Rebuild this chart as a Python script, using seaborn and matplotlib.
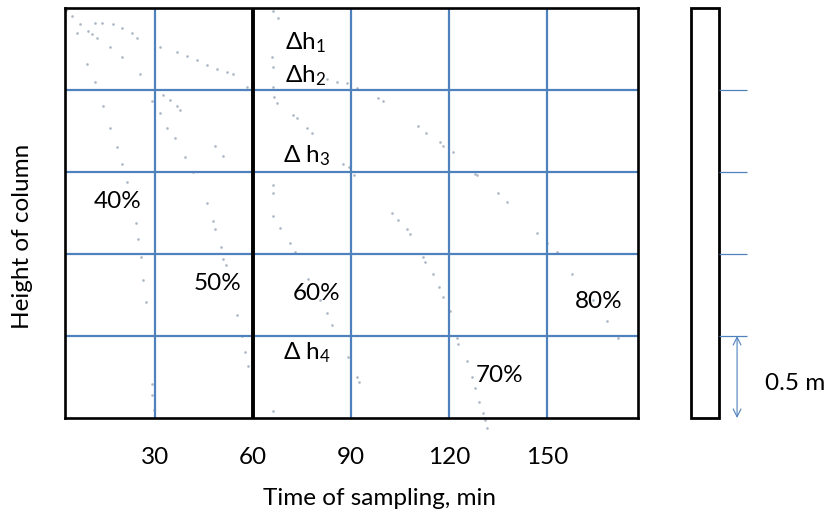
import numpy as np
import pandas as pd
import matplotlib
matplotlib.use('Agg')
import matplotlib.pyplot as plt
import seaborn as sns
from matplotlib.patches import Rectangle

# 采样时间 (min) 与柱高 (m) —— 浅色点迹
t_40 = [2.8, 6.1, 9.2, 11.6, 14.1, 16.2, 18.4, 19.9, 21.4, 24.2, 24.8, 25.7, 26.3, 27.2, 29.1, 29.1, 29.7]
h_40 = [2.49, 2.35, 2.16, 2.05, 1.90, 1.77, 1.65, 1.55, 1.44, 1.19, 1.09, 0.98, 0.84, 0.71, 0.21, 0.14, 0.05]

t_50 = [12.2, 16.2, 19.9, 25.4, 29.1, 31.5, 33.7, 36.1, 39.2, 41.6, 45.9, 47.8, 48.4, 50.2, 50.8, 51.7,
        55.1, 56.6, 57.5, 58.5, 59.7]
h_50 = [2.32, 2.26, 2.20, 2.10, 1.93, 1.86, 1.77, 1.71, 1.59, 1.50, 1.31, 1.20, 1.15, 1.04, 0.97, 0.93,
        0.63, 0.50, 0.40, 0.32, 0.16]

t_top = [2.8, 4.6, 7.0, 9.5, 10.7, 11.6, 13.8, 17.1, 19.9, 23.0, 24.5, 31.5, 36.7, 39.8, 42.9, 45.9,
         49.0, 52.0, 53.9, 58.2]
h_top = [2.49, 2.45, 2.40, 2.36, 2.34, 2.41, 2.41, 2.40, 2.38, 2.35, 2.32, 2.26, 2.23, 2.21, 2.18, 2.15,
         2.13, 2.11, 2.10, 2.02]

t_mid = [32.4, 34.6, 36.7, 37.7, 48.4, 50.8]
h_mid = [1.97, 1.94, 1.90, 1.88, 1.66, 1.60]

t_60 = [66.1, 66.1, 66.1, 68.3, 71.3, 72.9, 76.8, 80.5, 82.6, 84.2, 89.1, 91.8, 92.4, 66.1]
h_60 = [1.42, 1.37, 1.23, 1.16, 1.07, 1.01, 0.85, 0.72, 0.64, 0.57, 0.37, 0.25, 0.22, 0.04]

t_70 = [66.1, 67.7, 65.8, 66.1, 66.1, 66.4, 67.3, 72.2, 73.5, 76.5, 78.1, 87.5, 89.4, 90.9, 102.5, 104.4,
        107.1, 108.1, 112.0, 112.6, 115.1, 116.9, 118.2, 120.3, 122.4, 122.7, 125.5, 127.0, 128.0, 129.2,
        130.4, 131.0, 131.6]
h_70 = [2.48, 2.44, 2.20, 2.14, 2.02, 1.96, 1.92, 1.85, 1.83, 1.77, 1.74, 1.55, 1.53, 1.48, 1.25, 1.21,
        1.15, 1.12, 0.98, 0.95, 0.88, 0.80, 0.74, 0.65, 0.49, 0.45, 0.35, 0.25, 0.18, 0.10,
        0.03, -0.01, -0.06]

t_80 = [82.6, 85.7, 88.8, 91.8, 98.3, 99.8, 110.5, 113.0, 117.2, 118.2, 121.2, 128.0, 128.6, 135.0, 137.7,
        146.9, 150.0, 153.1, 157.6, 164.1, 168.4, 171.7]
h_80 = [2.07, 2.05, 2.04, 2.01, 1.95, 1.93, 1.78, 1.74, 1.68, 1.66, 1.62, 1.49, 1.48, 1.37, 1.32,
        1.13, 1.07, 1.01, 0.88, 0.72, 0.59, 0.49]

# 刻度与标注
time_ticks = [30, 60, 90, 120, 150]
height_levels = [0.5, 1.0, 1.5, 2.0]
column_height = 2.5
split_time = 60

pct_labels = ['40%', '50%', '60%', '70%', '80%']
pct_t = [18.4, 49.0, 79.3, 135.3, 165.9]
pct_h = [1.32, 0.82, 0.76, 0.26, 0.71]

dh_labels = [r'$\Delta$h$_{\mathregular{1}}$', r'$\Delta$h$_{\mathregular{2}}$',
             r'$\Delta$ h$_{\mathregular{3}}$', r'$\Delta$ h$_{\mathregular{4}}$']
dh_t = [76.0, 76.0, 76.5, 76.5]
dh_h = [2.29, 2.09, 1.60, 0.40]

curves = {'40': (t_40, h_40), '50': (t_50, h_50), 'top': (t_top, h_top), 'mid': (t_mid, h_mid),
          '60': (t_60, h_60), '70': (t_70, h_70), '80': (t_80, h_80)}
df = pd.concat([pd.DataFrame({'t': t, 'h': h, 'curve': k}) for k, (t, h) in curves.items()],
               ignore_index=True)

sns.set_style('white')
plt.rcParams['font.family'] = ['Lato', 'DejaVu Sans']
plt.rcParams['mathtext.fontset'] = 'custom'
plt.rcParams['mathtext.rm'] = 'Lato'
plt.rcParams['mathtext.it'] = 'Lato'
plt.rcParams['mathtext.default'] = 'regular'
plt.rcParams['text.color'] = 'black'
plt.rcParams['axes.labelcolor'] = 'black'
plt.rcParams['xtick.color'] = 'black'

blue = '#4f81bd'
fs = 17.5

fig = plt.figure(figsize=(8.29, 5.18), dpi=100)
ax = fig.add_axes([65 / 829, 100 / 518, 573 / 829, 410 / 518])

sns.scatterplot(data=df, x='t', y='h', ax=ax, color='#aab5c4', s=3.5, linewidth=0,
                legend=False, clip_on=False, zorder=1)

ax.set_xlim(2.45, 177.8)
ax.set_ylim(0, column_height)
ax.set_xticks(time_ticks)
ax.set_yticks(height_levels)
ax.set_yticklabels([])
ax.grid(True, color=blue, lw=1.6, zorder=2)
ax.set_axisbelow(False)
ax.axvline(split_time, color='black', lw=2.8, zorder=3)
ax.tick_params(axis='both', length=0)
ax.tick_params(axis='x', pad=21, labelsize=fs)
for s in ax.spines.values():
    s.set_linewidth(1.9)
    s.set_color('black')
    s.set_zorder(4)

ax.set_xlabel('Time of sampling, min', fontsize=fs)
ax.xaxis.set_label_coords(0.548, -0.17)
ax.set_ylabel('Height of column', fontsize=fs)
ax.yaxis.set_label_coords(-0.055, 0.444)

for lab, t, h in zip(pct_labels, pct_t, pct_h):
    ax.text(t, h, lab, ha='center', va='center', fontsize=fs, zorder=5)
for lab, t, h in zip(dh_labels, dh_t, dh_h):
    ax.text(t, h, lab, ha='center', va='center', fontsize=fs, zorder=5)

# 右侧柱体示意
ax2 = fig.add_axes([680 / 829, 100 / 518, 149 / 829, 410 / 518])
ax2.set_xlim(0, 1)
ax2.set_ylim(0, column_height)
ax2.axis('off')
ax2.add_patch(Rectangle((0.074, 0), 0.188, column_height, fill=False, ec='black', lw=2.0, clip_on=False))
ax2.hlines(height_levels, 0.262, 0.45, color=blue, lw=0.9)
ax2.annotate('', xy=(0.383, 0), xytext=(0.383, height_levels[0]),
             arrowprops=dict(arrowstyle='<->', color=blue, lw=0.8, shrinkA=0, shrinkB=0, mutation_scale=14))
ax2.text(0.57, 0.213, '0.5 m', ha='left', va='center', fontsize=fs)

fig.savefig('out.png', dpi=100)
